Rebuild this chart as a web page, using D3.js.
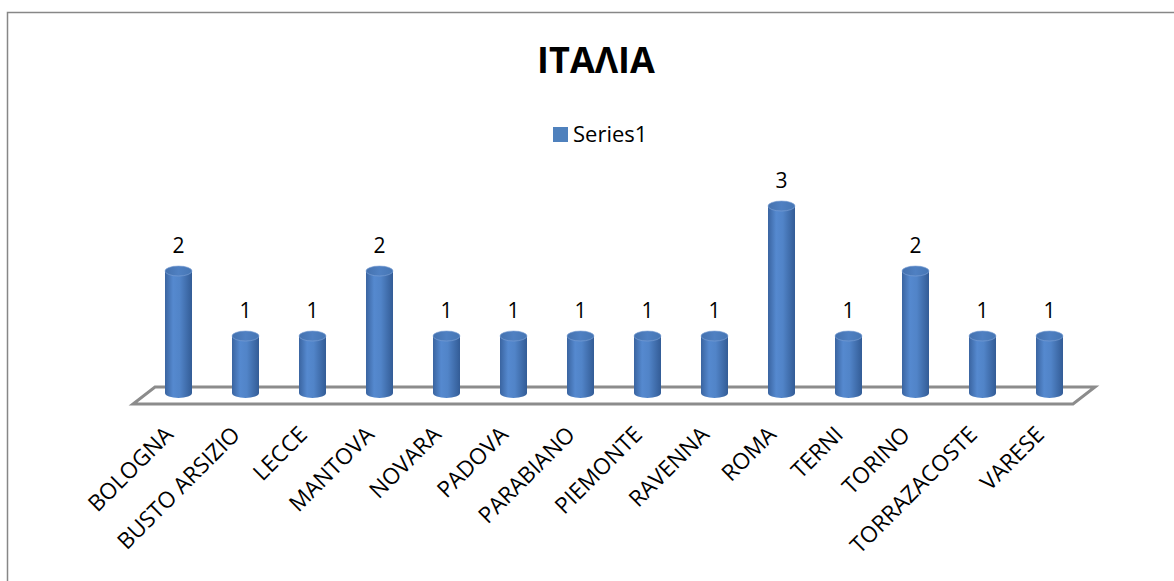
<!DOCTYPE html>
<meta charset="utf-8">
<script src="https://cdn.jsdelivr.net/npm/d3@7"></script>
<head>
<style>
    body { margin: 0; background: #fff; }
    text { font-family: "Open Sans", sans-serif; fill: #000; }
</style>
</head>
<body>
<script>

    var categories = ["BOLOGNA", "BUSTO ARSIZIO", "LECCE", "MANTOVA", "NOVARA", "PADOVA",
        "PARABIANO", "PIEMONTE", "RAVENNA", "ROMA", "TERNI", "TORINO", "TORRAZACOSTE", "VARESE"];
    var values = [2, 1, 1, 2, 1, 1, 1, 1, 1, 3, 1, 2, 1, 1];
    var seriesName = "Series1";
    var chartTitle = "ΙΤΑΛΙΑ";

    var width = 1174;
    var height = 581;

    var svg = d3.select("body").append("svg")
        .attr("width", width)
        .attr("height", height);

    // gradient for the cylinders
    var defs = svg.append("defs");
    var grad = defs.append("linearGradient")
        .attr("id", "cyl")
        .attr("x1", "0").attr("x2", "1").attr("y1", "0").attr("y2", "0");
    grad.append("stop").attr("offset", "0%").attr("stop-color", "#3a64a0");
    grad.append("stop").attr("offset", "30%").attr("stop-color", "#5589cf");
    grad.append("stop").attr("offset", "55%").attr("stop-color", "#5184c8");
    grad.append("stop").attr("offset", "100%").attr("stop-color", "#335c96");

    var topGrad = defs.append("linearGradient")
        .attr("id", "cylTop")
        .attr("x1", "0").attr("x2", "1").attr("y1", "0").attr("y2", "0");
    topGrad.append("stop").attr("offset", "0%").attr("stop-color", "#4471ae");
    topGrad.append("stop").attr("offset", "50%").attr("stop-color", "#4f80c2");
    topGrad.append("stop").attr("offset", "100%").attr("stop-color", "#4676b4");

    // chart frame (only left and top edges are in view)
    svg.append("rect")
        .attr("x", 7.5)
        .attr("y", 12.5)
        .attr("width", width + 20)
        .attr("height", height + 20)
        .style("fill", "none")
        .style("stroke", "#878787")
        .style("stroke-width", 1.5);

    var x = d3.scaleBand()
        .domain(categories)
        .range([145, 1083]);

    var y = d3.scaleLinear()
        .domain([0, 3])
        .range([401, 206]);

    var rx = 13.5, ry = 5;
    var bottomY = 393;
    var depthX = 22, depthY = 17;
    var floorFront = 404;

    // floor
    var x0 = x.range()[0], x1 = x.range()[1];
    svg.append("path")
        .attr("d", "M" + (x0 - 12) + "," + floorFront +
                   "L" + (x1 - 10) + "," + floorFront +
                   "L" + (x1 - 10 + depthX) + "," + (floorFront - depthY) +
                   "L" + (x0 - 12 + depthX) + "," + (floorFront - depthY) + "Z")
        .style("fill", "#fff")
        .style("stroke", "#8c8c8c")
        .style("stroke-width", 3)
        .style("stroke-linejoin", "miter");

    // cylinders
    var bars = svg.selectAll(".bar")
        .data(values)
        .enter()
        .append("g")
        .attr("class", "bar");

    bars.append("path")
        .attr("d", function(d, i) {
            var cx = x(categories[i]) + x.bandwidth() / 2;
            var top = y(d);
            return "M" + (cx - rx) + "," + top +
                   "L" + (cx - rx) + "," + bottomY +
                   "A" + rx + "," + ry + " 0 0 0 " + (cx + rx) + "," + bottomY +
                   "L" + (cx + rx) + "," + top + "Z";
        })
        .style("fill", "url(#cyl)");

    bars.append("ellipse")
        .attr("cx", function(d, i) { return x(categories[i]) + x.bandwidth() / 2; })
        .attr("cy", function(d) { return y(d); })
        .attr("rx", rx)
        .attr("ry", ry)
        .style("fill", "url(#cylTop)")
        .style("stroke", "#7fa3d6")
        .style("stroke-width", 0.6);

    // value labels
    bars.append("text")
        .attr("x", function(d, i) { return x(categories[i]) + x.bandwidth() / 2; })
        .attr("y", function(d) { return y(d) - 18; })
        .attr("text-anchor", "middle")
        .style("font-size", "21px")
        .text(function(d) { return d; });

    // category labels
    svg.selectAll(".catLabel")
        .data(categories)
        .enter()
        .append("text")
        .attr("class", "catLabel")
        .attr("text-anchor", "end")
        .attr("transform", function(d) {
            var cx = x(d) + x.bandwidth() / 2 - 4;
            return "translate(" + cx + ",436) rotate(-45)";
        })
        .style("font-size", "22.5px")
        .text(function(d) { return d; });

    // title
    svg.append("text")
        .attr("x", 596)
        .attr("y", 73)
        .attr("text-anchor", "middle")
        .style("font-size", "36px")
        .style("font-weight", "bold")
        .text(chartTitle);

    // legend
    var legend = svg.append("g")
        .attr("transform", "translate(553,127)");
    legend.append("rect")
        .attr("width", 15)
        .attr("height", 15)
        .style("fill", "#4f81bd");
    legend.append("text")
        .attr("x", 20)
        .attr("y", 15)
        .style("font-size", "22px")
        .text(seriesName);

</script>
</body>
</html>
